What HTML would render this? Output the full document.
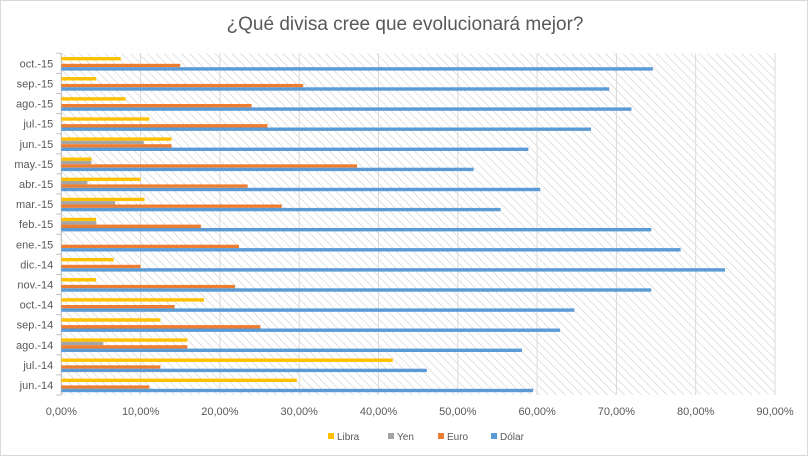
<!DOCTYPE html>
<html><head><meta charset="utf-8"><style>
body{margin:0;background:#fff;font-family:"Liberation Sans",sans-serif;}
#wrap{position:relative;width:808px;height:456px;overflow:hidden;border:1px solid #d9d9d9;box-sizing:border-box;}
</style></head><body>
<div id="wrap">
<svg id="chart" width="808" height="456">
<defs><pattern id="hatch" width="6" height="6" patternUnits="userSpaceOnUse" patternTransform="rotate(-45)"><rect width="6" height="6" fill="#fff"/><line x1="0" y1="0" x2="0" y2="6" stroke="#d0d0d0" stroke-width="1.2"/></pattern></defs>
<text x="404" y="29" text-anchor="middle" font-size="19" fill="#595959">¿Qué divisa cree que evolucionará mejor?</text>
</svg>
</div>
<script>
const categories=["oct.-15","sep.-15","ago.-15","jul.-15","jun.-15","may.-15","abr.-15","mar.-15","feb.-15","ene.-15","dic.-14","nov.-14","oct.-14","sep.-14","ago.-14","jul.-14","jun.-14"];
const libra=[7.5,4.4,8.1,11.1,13.9,3.8,10,10.5,4.4,0,6.6,4.4,18,12.5,15.9,41.8,29.7];
const yen=[0,0,0,0,10.4,3.8,3.3,6.8,4.4,0,0,0,0,0,5.3,0,0];
const euro=[15,30.5,24,26,13.9,37.3,23.5,27.8,17.6,22.4,10,21.9,14.3,25.1,15.9,12.5,11.1];
const dolar=[74.6,69.1,71.9,66.8,58.9,52,60.4,55.4,74.4,78.1,83.7,74.4,64.7,62.9,58.1,46.1,59.5];
const ticks=[0,10,20,30,40,50,60,70,80,90];
const tickLabels=["0,00%","10,00%","20,00%","30,00%","40,00%","50,00%","60,00%","70,00%","80,00%","90,00%"];
const seriesNames=["Libra","Yen","Euro","Dólar"];
const svg=document.getElementById('chart');const NS="http://www.w3.org/2000/svg";
const x0=60.3,x1=774,yTop=52.3,yBottom=394;
const bandH=(yBottom-yTop)/categories.length;
const xS=v=>x0+(x1-x0)*v/90;
const yS=i=>yTop+i*bandH;
function mk(t,a){const e=document.createElementNS(NS,t);for(const k in a)e.setAttribute(k,a[k]);svg.appendChild(e);return e;}
const bg=mk('rect',{x:x0,y:yTop,width:x1-x0,height:yBottom-yTop,fill:'url(#hatch)'});


ticks.forEach((t,i)=>{
 const l=mk('line',{x1:xS(t),x2:xS(t),y1:yTop,y2:yBottom,stroke:'#d9d9d9','stroke-width':1});
 
 
 const tx=mk('text',{x:xS(t),y:414,'text-anchor':'middle','font-size':11,fill:'#595959'});
 tx.textContent=tickLabels[i];
 
 
});
const ax=mk('line',{x1:x0,x2:x0,y1:yTop,y2:yBottom,stroke:'#bfbfbf'});


for(let i=0;i<=categories.length;i++){const tk=mk('line',{x1:x0-5,x2:x0,y1:yS(i),y2:yS(i),stroke:'#bfbfbf'});
 
 }
const colors=["#ffc000","#a5a5a5","#ed7d31","#5b9bd5"];
const series=[libra,yen,euro,dolar];const bh=3.4,off=3.7;
categories.forEach((c,i)=>{
 const lb=mk('text',{x:x0-8,y:yS(i)+bandH/2+4,'text-anchor':'end','font-size':11,fill:'#595959'});
 lb.textContent=c;
 
 
 series.forEach((s,j)=>{if(s[i]<=0)return;
  const r=mk('rect',{x:x0,y:yS(i)+off+j*bh,width:xS(s[i])-x0,height:bh,fill:colors[j]});
  
  });
});
const lx=[327,387,437,490];
seriesNames.forEach((n,j)=>{
 const r=mk('rect',{x:lx[j],y:432,width:6,height:6,fill:colors[j]});
 
 
 const t=mk('text',{x:lx[j]+9,y:439,'font-size':10,fill:'#595959'});t.textContent=n;
 
 
});
</script>
</body></html>
